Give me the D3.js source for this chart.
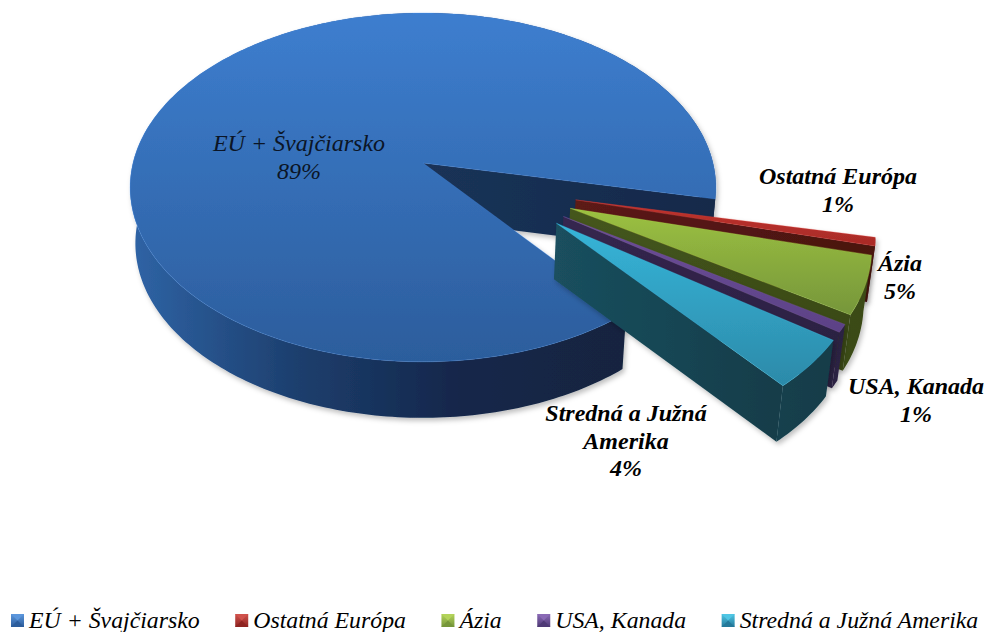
<!DOCTYPE html>
<html>
<head>
<meta charset="utf-8">
<script src="https://cdn.jsdelivr.net/npm/d3@7/dist/d3.min.js"></script>
<style>
html,body{margin:0;padding:0;background:#fff}
svg{display:block}
text{font-family:"Liberation Serif","Times New Roman",serif;font-style:italic;fill:#000}
</style>
</head>
<body>
<svg id="c" width="985" height="632"></svg>
<script>
// Data
const categories = ["EÚ + Švajčiarsko", "Ostatná Európa", "Ázia", "USA, Kanada", "Stredná a Južná Amerika"];
const shares = [89, 0.75, 5.15, 0.7, 4.4];
const shareLabels = ["89%", "1%", "5%", "1%", "4%"];
const labelLines = [["EÚ + Švajčiarsko"], ["Ostatná Európa"], ["Ázia"], ["USA, Kanada"], ["Stredná a Južná", "Amerika"]];

// Styles
const topColors = [["#3d7ecf","#2c5d9c"],["#c0332e","#a92b27"],["#9cc141","#76963a"],["#6d4d99","#5c4286"],["#36b5d9","#2c8aa9"]];
const wallColors = [["#2f64a6","#1d3f6e","#13264a","#12243f"],["#5c1a15","#4a1310"],["#45561c","#3a4a17"],["#35264f","#2c2043"],["#1a4f5e","#123c49"]];
const cutColors = [["#1a3357","#15294a"],["#5c1a15","#4a1310"],["#45561c","#3a4a17"],["#35264f","#2c2043"],["#1a4f5e","#123c49"]];
const legendColors = [["#5b96dc","#2c5d9c"],["#d0524c","#8f2421"],["#b3d35a","#76963a"],["#8a6ab5","#4f3a76"],["#4fc6e4","#24799a"]];

// Layout of the tilted disc
const centre = {x: 423, y: 163};
const radiusX = 290, radiusY = 171, perspective = 0.14, wallHeight = 56, bottomTaper = 0.982;
const startDeg = 141.4, explodeDist = 0.552, explodedRadius = 0.98;

const rad = d => d * Math.PI / 180;
const xScale = d3.scaleLinear().domain([-1, 1]).range([centre.x - radiusX, centre.x + radiusX]);
const yScale = d3.scaleLinear().domain([-1, 1]).range([centre.y - radiusY, centre.y + radiusY]);

function project(X, Y, bottom) {
  const s = 1 / (1 - perspective * Y);
  const t = bottom ? bottomTaper : 1;
  return [xScale(X * s * t), yScale(Y * s) + (bottom ? wallHeight : 0)];
}

const pie = d3.pie().sort(null).startAngle(rad(startDeg)).endAngle(rad(startDeg + 360));
const arcs = pie(shares);

const svg = d3.select("#c");
const defs = svg.append("defs");
const f = defs.append("filter").attr("id", "sh").attr("x", "-10%").attr("y", "-10%").attr("width", "120%").attr("height", "125%");
f.append("feDropShadow").attr("dx", 2).attr("dy", 3).attr("stdDeviation", 2.5).attr("flood-color", "#000").attr("flood-opacity", 0.25);

function grad(id, stops, x1, y1, x2, y2) {
  const g = defs.append("linearGradient").attr("id", id).attr("gradientUnits", "userSpaceOnUse")
    .attr("x1", x1).attr("y1", y1).attr("x2", x2).attr("y2", y2);
  stops.forEach((c, i) => g.append("stop").attr("offset", i / (stops.length - 1)).attr("stop-color", c));
  return `url(#${id})`;
}

const line = d3.line();
const closed = pts => line(pts) + "Z";

const geoms = arcs.map((a, i) => {
  let ox = 0, oy = 0, r = 1;
  if (i > 0) {
    const bis = (a.startAngle + a.endAngle) / 2 - 2 * Math.PI;
    const dir = rad(120) + 0.5 * (bis - rad(120)) + rad(0.7);
    ox = explodeDist * Math.sin(dir);
    oy = -explodeDist * Math.cos(dir);
    r = explodedRadius;
  }
  const pt = (th, b) => project(ox + r * Math.sin(th), oy - r * Math.cos(th), b);
  const n = Math.max(2, Math.ceil((a.endAngle - a.startAngle) / rad(1)));
  const ths = d3.range(n + 1).map(j => a.startAngle + (a.endAngle - a.startAngle) * j / n);
  return {i, pt, ths, apexT: project(ox, oy, false), apexB: project(ox, oy, true), a};
});

const root = svg.append("g");

geoms.forEach(g => {
  const {i, pt, ths, apexT, apexB, a} = g;
  const top = ths.map(t => pt(t, false));
  const bot = ths.map(t => pt(t, true));
  const grp = root.append("g").attr("filter", "url(#sh)");
  const xs = top.map(p => p[0]).concat(bot.map(p => p[0]), apexT[0]);
  const ys = top.map(p => p[1]).concat(apexT[1]);
  const x0 = d3.min(xs), x1 = d3.max(xs), y0 = d3.min(ys), y1 = d3.max(ys);

  const wallFill = grad("w" + i, wallColors[i], x0, 0, x1 - (i ? 0 : 90), 0);
  const cutFill = grad("k" + i, cutColors[i], apexT[0], 0, pt(a.endAngle, false)[0], 0);
  const topFill = grad("t" + i, topColors[i], 0, y0, 0, y1);

  // outer wall
  grp.append("path").attr("d", closed(top.concat(bot.slice().reverse()))).attr("fill", wallFill);
  // cut face along the end edge of the slice
  const e = pt(a.endAngle, false), eb = pt(a.endAngle, true);
  grp.append("path").attr("d", closed([apexT, e, eb, apexB])).attr("fill", cutFill);
  // top face
  grp.append("path").attr("d", closed([apexT].concat(top))).attr("fill", topFill)
    .attr("stroke", d3.color(topColors[i][0]).brighter(0.5)).attr("stroke-opacity", 0.35).attr("stroke-width", 0.8);
});

// Data labels
const labelPos = [[299, 151], [838, 184], [900, 271], [916, 394], [626, 421]];
const lineGap = 27.5;
labelLines.forEach((lines, i) => {
  const t = svg.append("text").attr("text-anchor", "middle").attr("font-size", 24)
    .attr("font-weight", i === 0 ? "normal" : "bold").style("fill", i === 0 ? "#0b1526" : "#000");
  lines.concat(shareLabels[i]).forEach((s, j) => {
    t.append("tspan").attr("x", labelPos[i][0]).attr("y", labelPos[i][1] + j * lineGap).text(s);
  });
});

// Legend
let lx = 11;
const legendY = 614, mark = 13, markGap = 5, itemGap = 35.5;
categories.forEach((c, i) => {
  const g = svg.append("g");
  const [hi, lo] = legendColors[i];
  const fill = grad("l" + i, [hi, lo], 0, legendY, 0, legendY + mark);
  g.append("rect").attr("x", lx).attr("y", legendY).attr("width", mark).attr("height", mark).attr("fill", fill);
  g.append("path").attr("d", closed([[lx, legendY], [lx + mark, legendY], [lx + mark / 2, legendY + mark / 2]]))
    .attr("fill", hi);
  g.append("path").attr("d", closed([[lx, legendY + mark], [lx + mark, legendY + mark], [lx + mark / 2, legendY + mark / 2]]))
    .attr("fill", lo);
  const t = g.append("text").attr("x", lx + mark + markGap).attr("y", 628).attr("font-size", 23.8).text(c);
  lx += mark + markGap + t.node().getComputedTextLength() + itemGap;
});
</script>
</body>
</html>
